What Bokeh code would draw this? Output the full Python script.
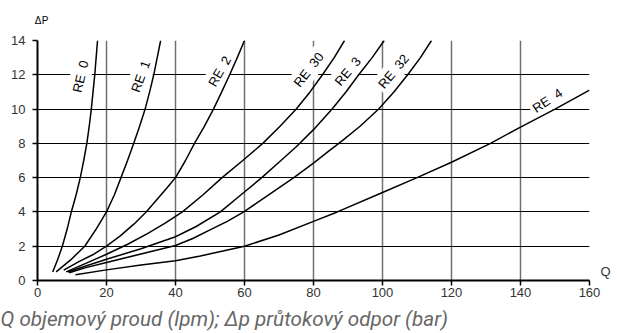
from bokeh.plotting import figure
from bokeh.models import ColumnDataSource, FixedTicker, Range1d, Title, LinearAxis
from bokeh.core.properties import value
from bokeh.embed import file_html
from bokeh.resources import INLINE

# ---- data ----
x_ticks = [0, 20, 40, 60, 80, 100, 120, 140, 160]
y_ticks = [0, 2, 4, 6, 8, 10, 12, 14]

re0_q = [4.4, 5.8, 7.2, 8.6, 9.8, 11.2, 12.4, 13.4, 14.3, 15.0, 15.6, 16.1, 16.6, 17.0, 17.4]
re0_p = [0.5, 1.2, 2.0, 3.0, 4.0, 5.0, 6.0, 7.0, 8.0, 9.0, 10.0, 11.0, 12.0, 13.0, 14.0]

re1_q = [5.4, 9.6, 13.7, 17.0, 20.0, 22.3, 24.2, 26.1, 27.9, 29.6, 31.2, 32.5, 33.7, 34.7, 35.7]
re1_p = [0.5, 1.2, 2.0, 3.0, 4.0, 5.0, 6.0, 7.0, 8.0, 9.0, 10.0, 11.0, 12.0, 13.0, 14.0]

re2_q = [7.6, 12.0, 16.0, 20.0, 24.0, 28.0, 31.5, 34.5, 37.5, 40.0, 42.9, 45.5, 48.4, 51.0, 53.4, 55.7, 57.9, 60.0]
re2_p = [0.6, 1.1, 1.5, 2.0, 2.6, 3.3, 4.0, 4.7, 5.4, 6.0, 7.0, 8.0, 9.0, 10.0, 11.0, 12.0, 13.0, 14.0]

re30_q = [8.3, 14.0, 20.0, 26.0, 32.0, 37.0, 42.0, 48.0, 53.5, 59.5, 65.3, 70.3, 75.0, 79.0, 82.6, 86.0, 89.0]
re30_p = [0.5, 1.0, 1.53, 2.1, 2.75, 3.35, 4.0, 5.0, 6.0, 7.0, 8.0, 9.0, 10.0, 11.0, 12.0, 13.0, 14.0]

re3_q = [8.8, 14.0, 20.0, 30.0, 40.0, 46.0, 53.0, 59.0, 65.0, 70.0, 75.0, 80.0, 85.4, 89.4, 93.1, 97.0, 100.5]
re3_p = [0.5, 0.85, 1.24, 1.85, 2.55, 3.15, 4.0, 5.0, 6.0, 6.9, 7.8, 8.8, 10.0, 11.0, 12.0, 13.0, 14.0]

re32_q = [9.2, 14.0, 20.0, 30.0, 40.0, 45.0, 50.0, 55.0, 59.8, 67.0, 74.3, 80.0, 84.4, 88.0, 93.5, 98.9, 103.3, 107.3, 111.0, 114.2]
re32_p = [0.45, 0.75, 1.05, 1.55, 2.04, 2.45, 2.95, 3.45, 4.0, 5.0, 6.0, 6.85, 7.55, 8.1, 9.0, 10.0, 11.0, 12.0, 13.0, 14.0]

re4_q = [11.0, 20.0, 30.0, 40.0, 47.2, 60.0, 70.0, 80.0, 86.9, 100.0, 110.0, 120.0, 131.3, 140.0, 150.0, 160.0]
re4_p = [0.33, 0.62, 0.9, 1.15, 1.43, 2.0, 2.65, 3.45, 4.0, 5.13, 6.0, 6.9, 8.0, 8.95, 10.0, 11.1]

label_text = ["RE\u00a0 0", "RE\u00a0 1", "RE\u00a0 2", "RE\u00a0 30", "RE\u00a0 3", "RE\u00a0 32", "RE\u00a0 4"]
label_q = [12.5, 29.9, 52.8, 78.6, 89.9, 103.2, 147.8]
label_p = [11.9, 11.9, 12.2, 12.3, 12.2, 12.2, 10.5]
label_angle = [77, 70, 60, 52, 50, 50, 33]

y_title = ["\u0394", "P"]
x_title = "Q"
caption = "Q objemový proud (lpm); \u0394p průtokový odpor (bar)"

# positions (in axis units) where the axis titles sit
y_title_pos = [0.2, 2.2]
x_title_pos = 0.55

# ---- figure ----
p = figure(frame_width=552, frame_height=240, x_range=Range1d(0, 160), y_range=Range1d(0, 14),
           output_backend="svg", toolbar_location=None,
           min_border_left=37, min_border_right=24, min_border_top=40, min_border_bottom=10)
p.outline_line_color = None
p.background_fill_color = "white"

p.xaxis.ticker = FixedTicker(ticks=x_ticks)
p.yaxis.ticker = FixedTicker(ticks=y_ticks)
for ax in (p.xaxis[0], p.yaxis[0]):
    ax.axis_line_color = "black"
    ax.axis_line_width = 2
    ax.major_tick_line_color = "black"
    ax.major_tick_line_width = 1.5
    ax.major_tick_out = 5
    ax.major_tick_in = 0
    ax.minor_tick_line_color = None
    ax.major_label_text_font = "Liberation Sans"
    ax.major_label_text_font_size = "13px"
    ax.major_label_text_color = "#333333"
p.yaxis.major_label_standoff = 7
p.xaxis.major_label_standoff = 2

p.xgrid.grid_line_color = "#707070"
p.xgrid.grid_line_width = 1.5
p.ygrid.grid_line_color = "black"
p.ygrid.grid_line_width = 1.2

# title of the vertical axis (Δp), set above the frame
top_axis = LinearAxis(ticker=FixedTicker(ticks=y_title_pos),
                      major_label_overrides={y_title_pos[0]: y_title[0], y_title_pos[1]: y_title[1]},
                      axis_line_color=None, major_tick_line_color=None, minor_tick_line_color=None,
                      major_tick_out=0, major_tick_in=0, major_label_standoff=15,
                      major_label_text_font="Liberation Sans", major_label_text_font_size="10px",
                      major_label_text_color="black")
p.add_layout(top_axis, "above")

# title of the horizontal axis (Q), set right of the frame at axis level
right_axis = LinearAxis(ticker=FixedTicker(ticks=[x_title_pos]),
                        major_label_overrides={x_title_pos: x_title},
                        axis_line_color=None, major_tick_line_color=None, minor_tick_line_color=None,
                        major_tick_out=0, major_tick_in=0, major_label_standoff=11,
                        major_label_text_font="Liberation Sans", major_label_text_font_size="13px",
                        major_label_text_color="#333333")
p.add_layout(right_axis, "right")

src = ColumnDataSource(dict(x=label_q, y=label_p, t=label_text, a=label_angle))
p.text(x="x", y="y", text="t", angle="a", angle_units="deg", source=src,
       text_font=value("Liberation Sans"), text_font_size="13px", text_color="black",
       text_align="center", text_baseline="middle",
       background_fill_color="white", padding=3)

for q, dp in [(re0_q, re0_p), (re1_q, re1_p), (re2_q, re2_p), (re30_q, re30_p),
              (re3_q, re3_p), (re32_q, re32_p), (re4_q, re4_p)]:
    p.line(q, dp, line_color="black", line_width=1.5)

p.add_layout(Title(text=caption, align="left", offset=-37, text_font="Roboto",
                   text_font_style="italic", text_font_size="20.7px",
                   text_color="#666666"), "below")

open("out.html", "w").write(file_html(p, INLINE))
